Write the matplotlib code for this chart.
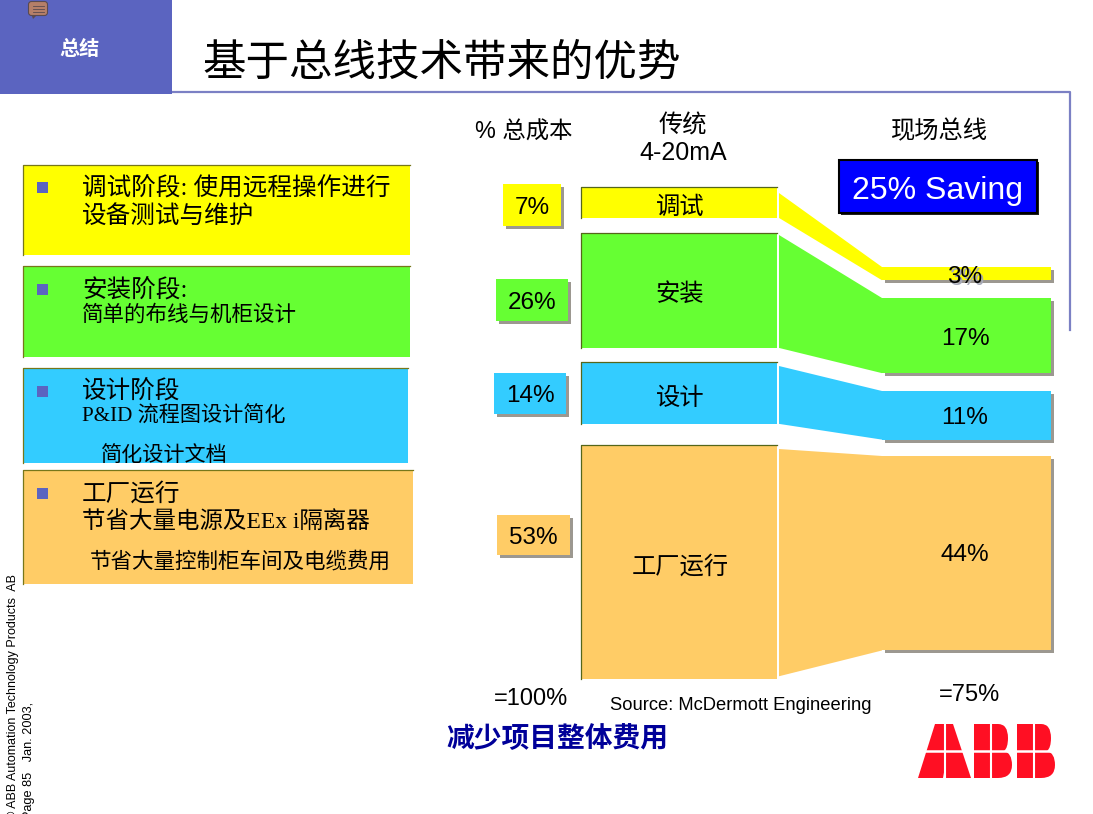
import matplotlib
matplotlib.use("Agg")
import matplotlib.pyplot as plt
from matplotlib.patches import Rectangle, Polygon, PathPatch, FancyBboxPatch
from matplotlib.path import Path

SANS = ["Liberation Sans", "Noto Sans CJK SC"]
SERIF = ["Liberation Serif", "Noto Sans CJK SC"]

# Data
phases = ["调试", "安装", "设计", "工厂运行"]
traditional = [7, 26, 14, 53]
fieldbus = [3, 17, 11, 44]
colors = ["#ffff00", "#66ff33", "#33ccff", "#ffcc66"]
total_labels = ["=100%", "=75%"]

# Layout, in slide pixels
px_per_pct = 4.42
trad_tops = [187, 233, 362, 445]
field_tops = [267, 298, 391, 456]
top_inset = [6, 2, 4, 4]
bottom_inset = [0, 0, 0, -3]
pct_boxes = [(503, 184, 58, 42), (496, 279, 72, 42), (494, 373, 72, 41), (497, 515, 73, 40)]
phase_label_y = [205, 292, 396, 564]
field_label_y = [274, 336, 415, 552]
trad_x, trad_w = 581, 196
field_x, field_w = 882, 169
SHADOW = "#9c9890"
BLUE = "#5b64c0"

fig = plt.figure(figsize=(10.93, 8.14), dpi=100)
ax = fig.add_axes([0, 0, 1, 1])
ax.set_xlim(0, 1093)
ax.set_ylim(814, 0)
ax.axis("off")


def txt(x, y, s, size, family=SANS, color="black", ha="center", **kw):
    # +3: va="center" sits a little high for these fonts
    ax.text(x, y + 3, s, fontsize=size, family=family, color=color, ha=ha, va="center", **kw)


def box(x, y, w, h, color, shadow=None, z=2):
    if shadow:
        ax.add_patch(Rectangle((x + 3, y + 3), w, h, fc=shadow, ec="none", zorder=z))
    ax.add_patch(Rectangle((x, y), w, h, fc=color, ec="none", zorder=z + 1))


# header
box(0, 0, 172, 94, BLUE)
ax.add_patch(FancyBboxPatch((30, 3), 16, 11, boxstyle="round,pad=1.5,rounding_size=3",
                            fc="#b57f68", ec="#5a4a50", lw=0.8, zorder=4))
ax.add_patch(Polygon([(32, 16), (36, 16), (33, 19)], fc="#5a4a50", ec="none", zorder=4))
for yy in (6, 9, 12):
    ax.plot([33, 44], [yy, yy], color="#5a4a50", lw=0.6, zorder=5)
txt(80, 46, "总结", 14.5, color="white", fontweight="bold", zorder=5)
txt(202, 61, "基于总线技术带来的优势", 31.3, ha="left")
ax.plot([172, 1070, 1070], [92, 92, 330], color="#7b80c4", lw=1.6, zorder=1)

# left panels
panels = [(23, 165, 387, 90), (23, 266, 387, 91), (23, 368, 385, 95), (23, 470, 390, 114)]
for (x, y, w, h), c in zip(panels, colors):
    box(x, y, w, h, c)
    ax.plot([x, x, x + w], [y + h, y, y], color="#77771a", lw=0.9, zorder=4)
    box(37, y + 17 if y < 200 else y + 18, 11, 11, BLUE, z=4)

txt(82, 186, "调试阶段: 使用远程操作进行", 17.7, SERIF, ha="left", zorder=6)
txt(82, 213, "设备测试与维护", 17.7, SERIF, ha="left", zorder=6)
txt(82, 288, "安装阶段:", 17.7, SERIF, ha="left", zorder=6)
txt(82, 313, "简单的布线与机柜设计", 15.5, SERIF, ha="left", zorder=6)
txt(82, 389, "设计阶段", 17.7, SERIF, ha="left", zorder=6)
txt(82, 414, "P&ID 流程图设计简化", 15.2, SERIF, ha="left", zorder=6)
txt(101, 453, "简化设计文档", 15.2, SERIF, ha="left", zorder=6)
txt(82, 491, "工厂运行", 17.7, SERIF, ha="left", zorder=6)
txt(82, 519, "节省大量电源及EEx i隔离器", 16.9, SERIF, ha="left", zorder=6)
txt(90, 559, "节省大量控制柜车间及电缆费用", 15.5, SERIF, ha="left", zorder=6)

# column headings
txt(524, 129, "% 总成本", 16.8)
txt(683, 123, "传统", 17.5)
txt(683, 150, "4-20mA", 18)
txt(939, 129, "现场总线", 17.5)
ax.add_patch(Rectangle((841, 162), 198, 53, fc="#222222", ec="none", zorder=2))
ax.add_patch(Rectangle((839, 160), 198, 53, fc="#0000ff", ec="black", lw=1.5, zorder=3))
txt(938, 188, "25% Saving", 23, color="white", zorder=4)

# stacked cost columns, connectors and labels
for i, name in enumerate(phases):
    c = colors[i]
    t_top, f_top = trad_tops[i], field_tops[i]
    t_h = traditional[i] * px_per_pct
    f_h = fieldbus[i] * px_per_pct
    box(trad_x, t_top, trad_w, t_h, c)
    ax.plot([trad_x, trad_x, trad_x + trad_w], [t_top + t_h, t_top, t_top], color="#55661a", lw=0.9, zorder=4)
    box(field_x, f_top, field_w, f_h, c, shadow=SHADOW)
    ax.add_patch(Polygon([(779, t_top + top_inset[i]), (field_x, f_top),
                          (field_x, f_top + f_h), (779, t_top + t_h + bottom_inset[i])],
                         fc=c, ec="none", zorder=3))
    txt(680, phase_label_y[i], name, 17.5, zorder=5)
    if i == 0:
        txt(967, field_label_y[i] + 2, f"{fieldbus[i]}%", 17.5, color="#a6a9b8", zorder=5)
    txt(965, field_label_y[i], f"{fieldbus[i]}%", 17.5, zorder=6)
    x, y, w, h = pct_boxes[i]
    box(x, y, w, h, c, shadow=SHADOW)
    txt(x + w / 2, y + h / 2, f"{traditional[i]}%", 17.5, zorder=5)

# footer text
txt(531, 696, total_labels[0], 17)
txt(970, 692, total_labels[1], 17)
txt(741, 703, "Source: McDermott Engineering", 13.2)
txt(557, 737, "减少项目整体费用", 20, color="#000099", fontweight="bold")
ax.text(7, 574, "© ABB Automation Technology Products  AB", fontsize=9, family=SANS, rotation=90,
        ha="left", va="top", clip_on=False)
ax.text(23, 702, "Page 85   Jan. 2003,", fontsize=9.2, family=SANS, rotation=90, ha="left", va="top")

# ABB logo
RED = "#ff0f23"
ax.add_patch(Polygon([(918, 778), (935, 724), (953, 724), (971, 778), (946, 778), (945, 767), (943, 778)],
                     fc=RED, ec="none", zorder=3))
for x0 in (974, 1017):
    verts = [(x0, 724), (x0 + 24, 724), (x0 + 34, 724), (x0 + 34, 738), (x0 + 34, 748), (x0 + 30, 751),
             (x0 + 38, 753), (x0 + 38, 765), (x0 + 38, 778), (x0 + 24, 778), (x0, 778), (x0, 724)]
    codes = [Path.MOVETO, Path.LINETO, Path.CURVE3, Path.CURVE3, Path.CURVE3, Path.CURVE3,
             Path.CURVE3, Path.CURVE3, Path.CURVE3, Path.CURVE3, Path.LINETO, Path.CLOSEPOLY]
    ax.add_patch(PathPatch(Path(verts, codes), fc=RED, ec="none", zorder=3))
ax.plot([915, 1058], [751, 751], color="white", lw=1.8, zorder=4)
for xv in (945, 991, 1034):
    ax.plot([xv, xv], [722, 780], color="white", lw=1.5, zorder=4)

fig.savefig("out.png", dpi=100)
